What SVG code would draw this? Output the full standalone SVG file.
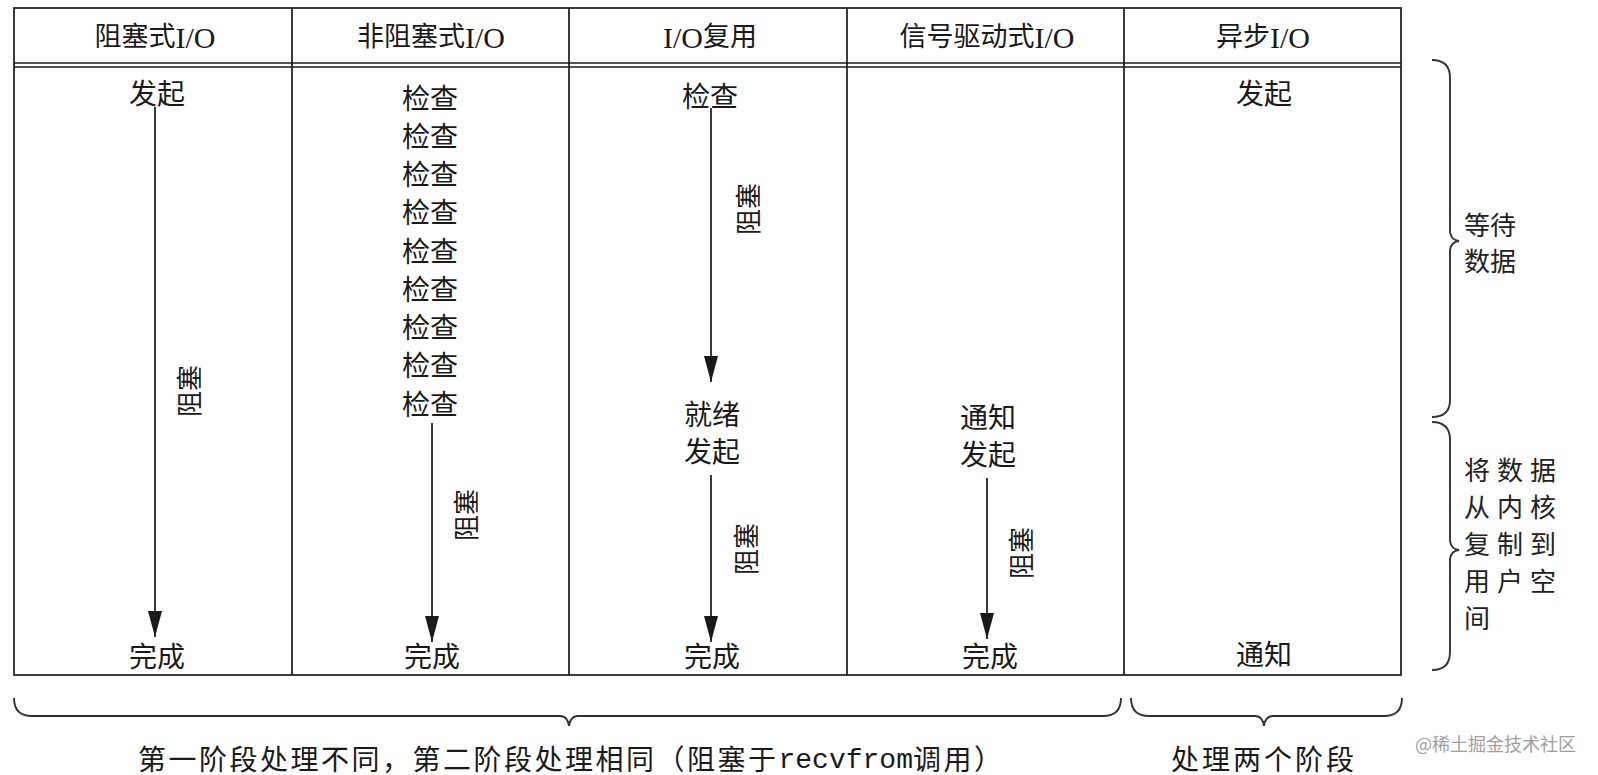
<svg xmlns="http://www.w3.org/2000/svg" width="1598" height="775" viewBox="0 0 1598 775">
<style>
.t{font-family:"Liberation Serif","Noto Sans CJK SC",serif;fill:#1a1a1a;text-anchor:middle;dominant-baseline:central}
.h{font-size:27px}
.io{font-size:30px}
.b{font-size:28px}
.r{font-size:26px}
.frame{stroke:#1a1a1a;stroke-width:1.7;fill:none}
.arr{stroke:#1a1a1a;stroke-width:1.7;fill:none;marker-end:url(#ah)}
.brace{stroke:#333;stroke-width:1.9;fill:none}
.side{font-family:"Liberation Serif","Noto Sans CJK SC",serif;font-size:26px;fill:#222;dominant-baseline:central}
.foot{font-family:"Liberation Serif","Noto Sans CJK SC",serif;font-size:28px;fill:#1a1a1a;dominant-baseline:central}
.mono{font-family:"Liberation Mono",monospace}
.wm{font-family:"Noto Sans CJK SC",sans-serif;font-size:18px;fill:#a0a0a0;dominant-baseline:central}
</style>
<defs>
<marker id="ah" markerUnits="userSpaceOnUse" viewBox="0 0 26 14" refX="26" refY="7" markerWidth="26" markerHeight="14" orient="auto">
<path d="M0,0 L26,7 L0,14 z" fill="#1a1a1a"/>
</marker>
</defs>
<rect x="0" y="0" width="1598" height="775" fill="#ffffff"/>

<g id="table">
<rect class="frame" x="14" y="8" width="1387" height="667"/>
<line class="frame" x1="14" y1="63" x2="1401" y2="63"/>
<line class="frame" x1="14" y1="67" x2="1401" y2="67"/>
<line class="frame" x1="292" y1="8" x2="292" y2="675"/>
<line class="frame" x1="569" y1="8" x2="569" y2="675"/>
<line class="frame" x1="847" y1="8" x2="847" y2="675"/>
<line class="frame" x1="1124" y1="8" x2="1124" y2="675"/>
</g>

<g id="headers">
<text class="t h" x="155" y="37">阻塞式<tspan class="io">I/O</tspan></text>
<text class="t h" x="431" y="37">非阻塞式<tspan class="io">I/O</tspan></text>
<text class="t h" x="710" y="37"><tspan class="io">I/O</tspan>复用</text>
<text class="t h" x="987" y="37">信号驱动式<tspan class="io">I/O</tspan></text>
<text class="t h" x="1263" y="37">异步<tspan class="io">I/O</tspan></text>
</g>

<g id="col1">
<text class="t b" x="157" y="94">发起</text>
<text class="t r" transform="translate(190,391) rotate(-90)">阻塞</text>
<text class="t b" x="157" y="657">完成</text>
</g>

<g id="col2">
<text class="t b" x="430" y="99">检查</text>
<text class="t b" x="430" y="137">检查</text>
<text class="t b" x="430" y="175">检查</text>
<text class="t b" x="430" y="213">检查</text>
<text class="t b" x="430" y="252">检查</text>
<text class="t b" x="430" y="290">检查</text>
<text class="t b" x="430" y="328">检查</text>
<text class="t b" x="430" y="366">检查</text>
<text class="t b" x="430" y="405">检查</text>
<text class="t r" transform="translate(467,515) rotate(-90)">阻塞</text>
<text class="t b" x="432" y="657">完成</text>
</g>

<g id="col3">
<text class="t b" x="710" y="97">检查</text>
<text class="t r" transform="translate(749,209) rotate(-90)">阻塞</text>
<text class="t b" x="712" y="415">就绪</text>
<text class="t b" x="712" y="452">发起</text>
<text class="t r" transform="translate(747,549) rotate(-90)">阻塞</text>
<text class="t b" x="712" y="657">完成</text>
</g>

<g id="col4">
<text class="t b" x="988" y="418">通知</text>
<text class="t b" x="988" y="455">发起</text>
<text class="t r" transform="translate(1022,553) rotate(-90)">阻塞</text>
<text class="t b" x="990" y="657">完成</text>
</g>

<g id="col5">
<text class="t b" x="1264" y="94">发起</text>
<text class="t b" x="1264" y="655">通知</text>
</g>

<g id="connectors">
<line class="arr" x1="155" y1="107" x2="155" y2="637"/>
<line class="arr" x1="432" y1="423" x2="432" y2="642"/>
<line class="arr" x1="711" y1="108" x2="711" y2="382"/>
<line class="arr" x1="711" y1="475" x2="711" y2="642"/>
<line class="arr" x1="987" y1="478" x2="987" y2="639"/>
</g>

<g id="braces">
<path class="brace" d="M1432,60 Q1450,60 1450,78 L1450,232 Q1451,240 1459,241 Q1451,242 1450,250 L1450,400 Q1450,417 1432,417"/>
<path class="brace" d="M1432,422 Q1450,422 1450,440 L1450,541 Q1451,549 1459,550 Q1451,551 1450,559 L1450,652 Q1450,670 1432,670"/>
<path class="brace" d="M14,698 Q14,716 32,716 L561,716 Q568,717 569,726 Q570,717 577,716 L1103,716 Q1121,716 1121,698"/>
<path class="brace" d="M1131,698 Q1131,716 1149,716 L1256,716 Q1263,717 1264,726 Q1265,717 1272,716 L1384,716 Q1402,716 1402,698"/>
</g>

<g id="side-labels">
<text class="side" x="1464" y="226">等待</text>
<text class="side" x="1464" y="262">数据</text>
<text class="side" x="1464" y="471" letter-spacing="7">将数据</text>
<text class="side" x="1464" y="508" letter-spacing="7">从内核</text>
<text class="side" x="1464" y="545" letter-spacing="7">复制到</text>
<text class="side" x="1464" y="582" letter-spacing="7">用户空</text>
<text class="side" x="1464" y="619" letter-spacing="7">间</text>
</g>

<g id="footer">
<text class="foot" x="138" y="760" letter-spacing="2.5">第一阶段处理不同，第二阶段处理相同（阻塞于<tspan class="mono" letter-spacing="0">recvfrom</tspan>调用）</text>
<text class="foot" x="1264" y="760" text-anchor="middle" font-size="27" letter-spacing="3">处理两个阶段</text>
<text class="wm" x="1415" y="743">@稀土掘金技术社区</text>
</g>
</svg>
